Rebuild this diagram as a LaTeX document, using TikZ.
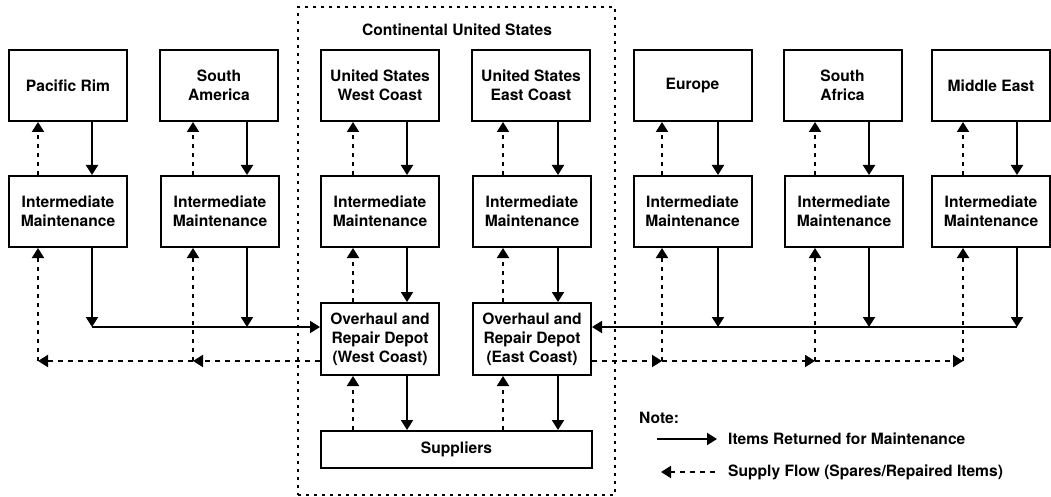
\documentclass[tikz,border=0pt]{standalone}
\usepackage{fontspec}
\setmainfont{TeX Gyre Heros}
\usetikzlibrary{arrows.meta}
\begin{document}
\begin{tikzpicture}[x=1pt,y=-1pt,
  every node/.style={font=\fontsize{15.6}{19}\selectfont\bfseries},
  box/.style={draw,line width=2pt,minimum width=118pt,minimum height=71pt,align=center,inner sep=0pt},
  tip/.style={-{Triangle[width=12pt,length=10pt]}},
  sol/.style={line width=2pt,tip},
  dsh/.style={line width=2pt,dash pattern=on 5pt off 5pt,tip},
  dotv/.style={line width=2pt,dash pattern=on 4pt off 5pt,tip},
  region/.style={draw,line width=1.7pt,dash pattern=on 3pt off 5pt}]
\useasboundingbox (0,0) rectangle (1051,497);
% continental US region
\node[region,minimum width=317pt,minimum height=488pt,inner sep=0pt] (conus) at (456.5,251) {};
\node (conuslbl) at (457,30) {Continental United States};
% top row
\node[box] (PR)  at (68,85.5)  {Pacific Rim};
\node[box] (SAm) at (219,85.5) {South\\America};
\node[box] (WC)  at (380,85.5) {United States\\West Coast};
\node[box] (EC)  at (531,85.5) {United States\\East Coast};
\node[box] (EU)  at (692.5,85.5) {Europe};
\node[box] (SAf) at (842.5,85.5) {South\\Africa};
\node[box] (ME)  at (991,85.5) {Middle East};
% intermediate row
\node[box] (IM1) at (68,211.5)  {Intermediate\\Maintenance};
\node[box] (IM2) at (220,211.5) {Intermediate\\Maintenance};
\node[box] (IM3) at (380,211.5) {Intermediate\\Maintenance};
\node[box] (IM4) at (532,211.5) {Intermediate\\Maintenance};
\node[box] (IM5) at (692.5,211.5) {Intermediate\\Maintenance};
\node[box] (IM6) at (844,211.5) {Intermediate\\Maintenance};
\node[box] (IM7) at (991,211.5) {Intermediate\\Maintenance};
% depots
\node[box,minimum height=72pt] (OW) at (380,339) {Overhaul and\\Repair Depot\\(West Coast)};
\node[box,minimum height=72pt] (OE) at (532,339) {Overhaul and\\Repair Depot\\(East Coast)};
\node[draw,line width=2pt,minimum width=271pt,minimum height=37pt,inner sep=0pt] (SUP) at (456.5,449.5) {Suppliers};
% column coordinates: solid (s) and dotted (d)
\coordinate (s1) at (92,327);   \coordinate (d1) at (38,361);
\coordinate (s2) at (247,327);  \coordinate (d2) at (193,361);
\coordinate (s3) at (407,327);  \coordinate (d3) at (353,361);
\coordinate (s4) at (558,327);  \coordinate (d4) at (503,361);
\coordinate (s5) at (718,327);  \coordinate (d5) at (662,361);
\coordinate (s6) at (869,327);  \coordinate (d6) at (815,361);
\coordinate (s7) at (1017,327); \coordinate (d7) at (963,361);
% region -> IM (solid) and IM -> region (dotted)
\foreach \r/\m/\i in {PR/IM1/1,SAm/IM2/2,WC/IM3/3,EC/IM4/4,EU/IM5/5,SAf/IM6/6,ME/IM7/7}{
  \draw[sol] (s\i |- \r.south) -- (s\i |- \m.north);
  \draw[dotv] (d\i |- \m.north) -- (d\i |- \r.south);
}
% IM -> horizontal solid line
\foreach \m/\i in {IM1/1,IM2/2,IM5/5,IM6/6,IM7/7}{
  \draw[sol] (s\i |- \m.south) -- (s\i);
}
\draw[sol] (s1) -- (s1 -| OW.west);
\draw[sol] (s7) -- (s7 -| OE.east);
% supply horizontal dashed
\draw[dsh] (d2 -| OW.west) -- (d2);
\draw[dsh] (d2) -- (d1);
\draw[dsh] (d4 -| OE.east) -- (d5);
\draw[dsh] (d5) -- (d6);
\draw[dsh] (d6) -- (d7);
\foreach \m/\i in {IM1/1,IM2/2,IM5/5,IM6/6,IM7/7}{
  \draw[dotv] (d\i) -- (d\i |- \m.south);
}
% centre columns
\draw[sol] (s3 |- IM3.south) -- (s3 |- OW.north);
\draw[dotv] (d3 |- OW.north) -- (d3 |- IM3.south);
\draw[sol] (s4 |- IM4.south) -- (s4 |- OE.north);
\draw[dotv] (d4 |- OE.north) -- (d4 |- IM4.south);
\draw[sol] (s3 |- OW.south) -- (s3 |- SUP.north);
\draw[dotv] (d3 |- SUP.north) -- (d3 |- OW.south);
\draw[sol] (s4 |- OE.south) -- (s4 |- SUP.north);
\draw[dotv] (d4 |- SUP.north) -- (d4 |- OE.south);
% legend
\node[anchor=west,inner sep=0pt] (note) at (639,418) {Note:};
\coordinate (la1) at (657,439); \coordinate (la2) at (717,439);
\coordinate (lb1) at (715,472); \coordinate (lb2) at (661,472);
\draw[sol] (la1) -- (la2);
\draw[dsh] (lb1) -- (lb2);
\node[anchor=west,inner sep=0pt] (leg1) at (728,439) {Items Returned for Maintenance};
\node[anchor=west,inner sep=0pt] (leg2) at (728,472) {Supply Flow (Spares/Repaired Items)};
\end{tikzpicture}
\end{document}
